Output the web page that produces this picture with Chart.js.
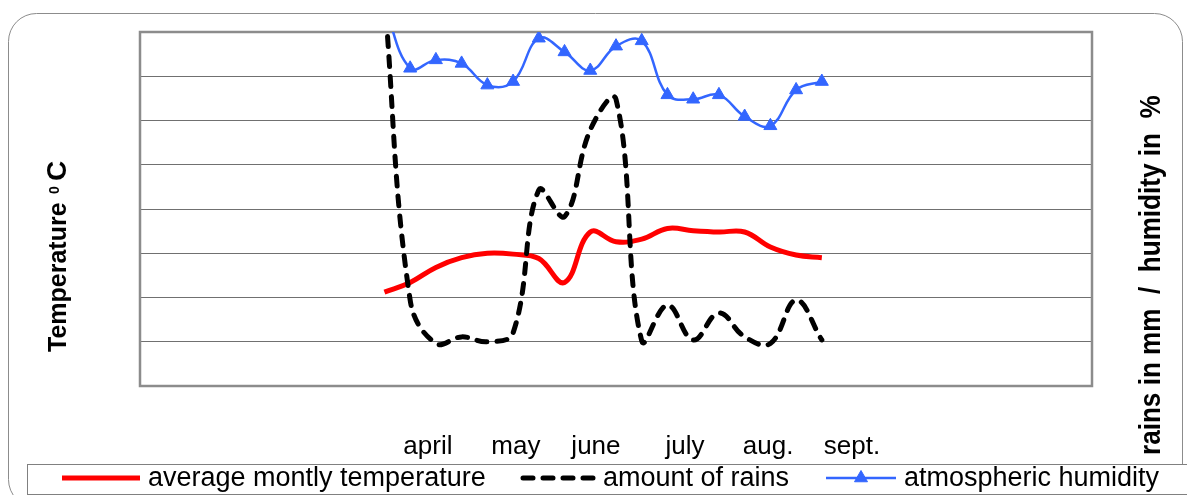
<!DOCTYPE html>
<html>
<head>
<meta charset="utf-8">
<script src="https://cdn.jsdelivr.net/npm/chart.js@4.4.1/dist/chart.umd.min.js"></script>
<style>
    html, body { margin: 0; padding: 0; background: #fff; }
    #canCon { width: 1187px; height: 495px; }
</style>
</head>
<body>
<div id="canCon"><canvas id="myChart"></canvas></div>
<script>
// ten-day periods (decades) along the season
const decades = [10, 11, 12, 13, 14, 15, 16, 17, 18, 19, 20, 21, 22, 23, 24, 25, 26, 27];
const temperature = [10.6, 11.7, 13.4, 14.5, 15.0, 14.9, 14.4, 11.7, 17.4, 16.3, 16.6, 17.8, 17.55, 17.4, 17.4, 15.7, 14.8, 14.5];
const rains = [88, 19.4, 9.6, 11.1, 10.0, 12.0, 44.3, 38.3, 57.9, 64.8, 10.2, 18.3, 10.4, 16.5, 11.1, 9.6, 19.4, 10.4];
const humidity = [86, 71.8, 73.7, 72.9, 68.0, 68.8, 78.6, 75.5, 71.3, 76.8, 78.0, 65.8, 64.8, 65.8, 60.9, 58.8, 66.9, 68.8];
const monthLabels = ['april', 'may', 'june', 'july', 'aug.', 'sept.'];
const monthTicks = [11.69, 15.11, 18.22, 21.68, 24.91, 28.17];

const seriesNames = ['average montly temperature', 'amount of rains', 'atmospheric humidity'];
const leftTitle = 'Temperature';
const rightTitle = 'rains in mm  /  humidity in  %';

const FONT = '"Liberation Sans", Arial, sans-serif';
Chart.defaults.font.family = FONT;
Chart.defaults.color = '#000';

function pts(vals) {
    return decades.map((d, i) => ({ x: d, y: vals[i] }));
}

function roundedRect(ctx, x, y, w, h, r) {
    ctx.beginPath();
    ctx.moveTo(x + r, y);
    ctx.lineTo(x + w - r, y);
    ctx.arcTo(x + w, y, x + w, y + r, r);
    ctx.lineTo(x + w, y + h - r);
    ctx.arcTo(x + w, y + h, x + w - r, y + h, r);
    ctx.lineTo(x + r, y + h);
    ctx.arcTo(x, y + h, x, y + h - r, r);
    ctx.lineTo(x, y + r);
    ctx.arcTo(x, y, x + r, y, r);
    ctx.closePath();
}

const decor = {
    id: 'decor',
    beforeDraw(chart) {
        const ctx = chart.ctx;
        ctx.save();
        ctx.fillStyle = '#fff';
        ctx.fillRect(0, 0, chart.width, chart.height);
        ctx.strokeStyle = '#8c8c8c';
        ctx.lineWidth = 1;
        roundedRect(ctx, 8.5, 13.5, 1174, 494, 28);
        ctx.stroke();
        ctx.restore();
    },
    beforeDatasetsDraw(chart) {
        const ctx = chart.ctx, a = chart.chartArea;
        ctx.save();
        ctx.strokeStyle = '#8c8c8c';
        ctx.lineWidth = 2.5;
        ctx.strokeRect(a.left, a.top, a.right - a.left, a.bottom - a.top);
        ctx.restore();
    },
    afterDraw(chart) {
        const ctx = chart.ctx;
        ctx.save();

        // legend box
        ctx.fillStyle = '#fff';
        ctx.fillRect(27, 464, 1180, 30);
        ctx.strokeStyle = '#808080';
        ctx.lineWidth = 1;
        ctx.strokeRect(27.5, 464.5, 1180, 30);

        const spots = [{ x: 62, w: 78 }, { x: 523, w: 72 }, { x: 826, w: 70 }];
        const ly = 478;
        chart.data.datasets.forEach((ds, i) => {
            const s = spots[i];
            ctx.save();
            ctx.strokeStyle = ds.borderColor;
            ctx.lineWidth = ds.borderWidth;
            ctx.lineCap = ds.borderCapStyle || 'butt';
            ctx.setLineDash(ds.borderDash || []);
            ctx.beginPath();
            ctx.moveTo(s.x, ly);
            ctx.lineTo(s.x + s.w, ly);
            ctx.stroke();
            ctx.restore();
            if (ds.pointRadius) {
                ctx.save();
                ctx.fillStyle = ds.pointBackgroundColor;
                ctx.strokeStyle = ds.borderColor;
                Chart.helpers.drawPoint(ctx, { pointStyle: ds.pointStyle, radius: ds.pointRadius, borderWidth: 1, rotation: 0 }, s.x + s.w / 2, ly);
                ctx.restore();
            }
            ctx.fillStyle = '#000';
            ctx.font = '27px ' + FONT;
            ctx.textBaseline = 'alphabetic';
            ctx.fillText(ds.label, s.x + s.w + 8, 486);
        });

        // left axis title
        ctx.fillStyle = '#000';
        ctx.save();
        ctx.translate(66, 352);
        ctx.rotate(-Math.PI / 2);
        ctx.font = 'bold 25px ' + FONT;
        ctx.fillText(leftTitle, 0, 0);
        ctx.font = 'bold 14px ' + FONT;
        ctx.fillText('0', 158, -7);
        ctx.font = 'bold 28px ' + FONT;
        ctx.fillText('C', 171, 0);
        ctx.restore();

        // right axis title
        ctx.save();
        ctx.translate(1160, 455);
        ctx.rotate(-Math.PI / 2);
        ctx.scale(0.87, 1);
        ctx.font = 'bold 30px ' + FONT;
        ctx.fillText(rightTitle, 0, 0);
        ctx.restore();

        ctx.restore();
    }
};

let myChart = new Chart('myChart', {
    type: 'line',
    data: {
        datasets: [{
            label: seriesNames[0],
            data: pts(temperature),
            yAxisID: 'yT',
            borderColor: '#ff0000',
            borderWidth: 5,
            pointRadius: 0,
            tension: 0.4,
            order: 2
        }, {
            label: seriesNames[1],
            data: pts(rains),
            yAxisID: 'yR',
            borderColor: '#000000',
            borderWidth: 5,
            borderDash: [10, 10],
            borderCapStyle: 'round',
            pointRadius: 0,
            tension: 0.4,
            order: 1
        }, {
            label: seriesNames[2],
            data: pts(humidity),
            yAxisID: 'yR',
            borderColor: '#3366ff',
            borderWidth: 2.5,
            pointStyle: 'triangle',
            pointRadius: 7.5,
            pointBackgroundColor: '#3366ff',
            pointBorderColor: '#3366ff',
            pointBorderWidth: 1,
            tension: 0.4,
            order: 0
        }]
    },
    options: {
        responsive: true,
        maintainAspectRatio: false,
        animation: false,
        layout: { padding: { left: 140, right: 95, top: 32, bottom: 33 } },
        plugins: { legend: { display: false }, tooltip: { enabled: false } },
        scales: {
            x: {
                type: 'linear',
                min: 0.5,
                max: 37.5,
                grid: { display: false, drawTicks: false },
                border: { display: false },
                afterBuildTicks: (axis) => {
                    axis.ticks = monthTicks.map(v => ({ value: v }));
                },
                afterFit: (axis) => {
                    axis.height = 76;
                },
                ticks: {
                    autoSkip: false,
                    maxRotation: 0,
                    padding: 45,
                    font: { size: 26 },
                    color: '#000',
                    callback: (v, i) => monthLabels[i]
                }
            },
            yT: {
                position: 'left',
                min: 0,
                max: 40,
                ticks: { display: false, stepSize: 5 },
                grid: { color: '#707070', lineWidth: 1, drawTicks: false },
                border: { display: false }
            },
            yR: {
                position: 'right',
                min: 0,
                max: 80,
                ticks: { display: false, stepSize: 10 },
                grid: { display: false, drawTicks: false },
                border: { display: false }
            }
        }
    },
    plugins: [decor]
});
</script>
</body>
</html>
